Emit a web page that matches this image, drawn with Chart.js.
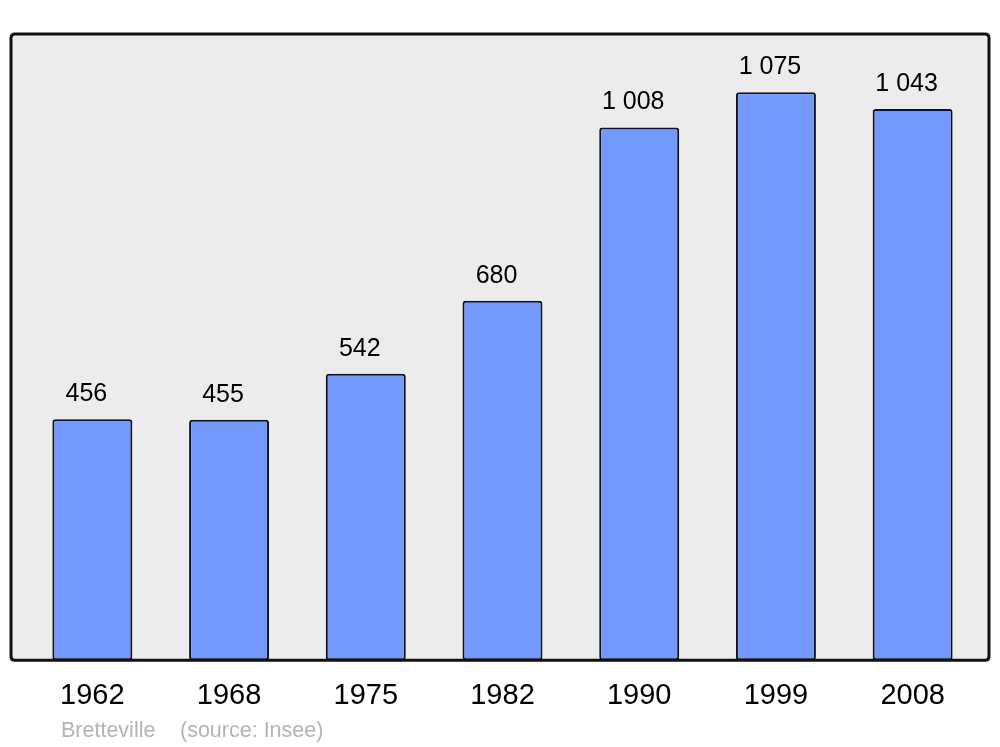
<!DOCTYPE html>
<html>
<head>
<meta charset="utf-8">
<script src="https://cdn.jsdelivr.net/npm/chart.js@4/dist/chart.umd.min.js"></script>
<style>
  html, body { margin: 0; padding: 0; background: #fff; }
  #wrap { width: 1000px; height: 747px; }
</style>
</head>
<body>
<div id="wrap"><canvas id="popChart" width="1000" height="747"></canvas></div>
<script>
const years = ['1962', '1968', '1975', '1982', '1990', '1999', '2008'];
const population = [456, 455, 542, 680, 1008, 1075, 1043];
const townName = 'Bretteville';
const sourceNote = '(source: Insee)';

const FONT = '"Liberation Sans", Arial, sans-serif';

// format 1075 -> "1 075"
function fmt(n) {
    return String(n).replace(/\B(?=(\d{3})+(?!\d))/g, ' ');
}

function roundRect(ctx, x, y, w, h, r) {
    ctx.beginPath();
    ctx.moveTo(x + r, y);
    ctx.lineTo(x + w - r, y);
    ctx.quadraticCurveTo(x + w, y, x + w, y + r);
    ctx.lineTo(x + w, y + h - r);
    ctx.quadraticCurveTo(x + w, y + h, x + w - r, y + h);
    ctx.lineTo(x + r, y + h);
    ctx.quadraticCurveTo(x, y + h, x, y + h - r);
    ctx.lineTo(x, y + r);
    ctx.quadraticCurveTo(x, y, x + r, y);
    ctx.closePath();
}

// grey panel behind the bars, black frame on top of them
const framePlugin = {
    id: 'frame',
    beforeDatasetsDraw(chart) {
        const ctx = chart.ctx;
        const a = chart.chartArea;
        ctx.save();
        roundRect(ctx, 11, a.top, 978, a.bottom - a.top, 4);
        ctx.fillStyle = '#ececec';
        ctx.fill();
        ctx.restore();
    },
    afterDatasetsDraw(chart) {
        const ctx = chart.ctx;
        const a = chart.chartArea;
        ctx.save();
        roundRect(ctx, 11, a.top, 978, a.bottom - a.top, 4);
        ctx.lineWidth = 3;
        ctx.strokeStyle = '#111';
        ctx.stroke();

        // value labels above bars (original sits a bit left of centre)
        ctx.fillStyle = '#000';
        ctx.font = '25px ' + FONT;
        ctx.textAlign = 'center';
        ctx.textBaseline = 'middle';
        chart.getDatasetMeta(0).data.forEach((bar, i) => {
            ctx.fillText(fmt(population[i]), bar.x - 6, bar.y - 25);
        });

        // footer
        ctx.fillStyle = '#b4b4b4';
        ctx.font = '21.5px ' + FONT;
        ctx.textAlign = 'left';
        ctx.fillText(townName, 61, 731);
        ctx.fillText(sourceNote, 180, 731);
        ctx.restore();
    }
};

new Chart(document.getElementById('popChart'), {
    type: 'bar',
    data: {
        labels: years,
        datasets: [{
            data: population,
            backgroundColor: '#7399ff',
            borderColor: '#111',
            borderWidth: 2,
            borderRadius: 3,
            borderSkipped: false,
            barPercentage: 0.585,
            categoryPercentage: 1
        }]
    },
    options: {
        responsive: false,
        animation: false,
        layout: { padding: { left: 24, right: 19, top: 34, bottom: 24 } },
        plugins: { legend: { display: false }, tooltip: { enabled: false } },
        scales: {
            x: {
                grid: { display: false },
                border: { display: false },
                ticks: {
                    color: '#000',
                    font: { family: FONT, size: 29 },
                    padding: 10,
                    maxRotation: 0,
                    autoSkip: false
                }
            },
            y: { display: false, min: 0, max: 1185 }
        }
    },
    plugins: [framePlugin]
});
</script>
</body>
</html>
